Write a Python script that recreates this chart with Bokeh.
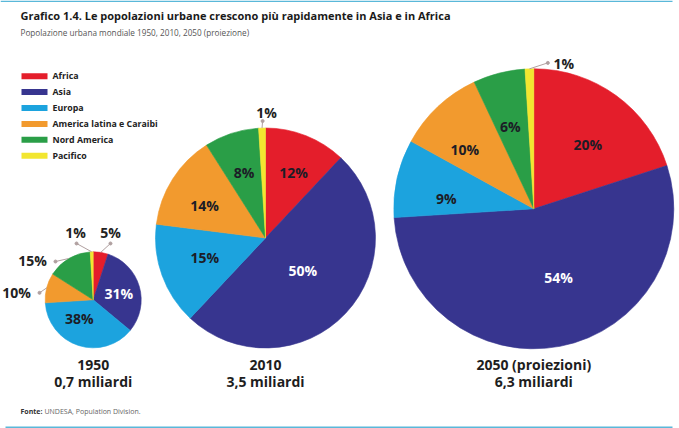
import numpy as np
from bokeh.plotting import figure
from bokeh.models import Range1d, ColumnDataSource
from bokeh.core.properties import value
from bokeh.embed import file_html
from bokeh.resources import INLINE

# ---------------- data ----------------
regions = ["Africa", "Asia", "Europa", "America latina e Caraibi", "Nord America", "Pacifico"]
region_colors = ["#E41E2B", "#37358F", "#1CA3DE", "#F29A2E", "#2A9E47", "#F2E630"]
years = ["1950", "2010", "2050 (proiezioni)"]
totals = ["0,7 miliardi", "3,5 miliardi", "6,3 miliardi"]
share_1950 = [5, 31, 38, 10, 15, 1]
share_2010 = [12, 50, 15, 14, 8, 1]
share_2050 = [20, 54, 9, 10, 6, 1]

title_text = "Grafico 1.4. Le popolazioni urbane crescono più rapidamente in Asia e in Africa"
subtitle_text = "Popolazione urbana mondiale 1950, 2010, 2050 (proiezione)"
source_bold = "Fonte:"
source_text = "UNDESA, Population Division."

# ---------------- layout ----------------
W, H = 679, 428
FONT = "Open Sans"
PIE_CX = [92.7, 265.0, 533.3]
PIE_CY = [299.3, 237.5, 208.3]      # px from top of picture
PIE_R = [48, 110, 140]
YEAR_Y, TOTAL_Y = 364, 381
# inside labels: region -> (angle nudge deg, radius fraction)
INSIDE = [
    {1: (3, 0.55), 2: (18, 0.49)},
    {0: (1.4, 0.65), 1: (-2, 0.45), 2: (2, 0.58), 3: (-4, 0.63), 4: (0, 0.63)},
    {0: (4, 0.60), 1: (-9, 0.52), 2: (-5.6, 0.63), 3: (-6, 0.65), 4: (-1.6, 0.61)},
]
# outside labels: region -> (angle deg, distance px, dot dx, dot dy)
OUTSIDE = [
    {0: (14.4, 69.5, 0, 11), 3: (275.2, 77, 23, 0), 4: (302.9, 72.3, 23, 1), 5: (345.3, 69.6, 1, 11)},
    {5: (0.5, 126, -4, 9)},
    {5: (11.7, 148, -16, -1)},
]
LEGEND_Y0, LEGEND_DY = 75.7, 15.9


def Y(ypix):
    return H - ypix


def polar(cx, cy, ang, d):
    a = np.radians(ang)
    return cx + d * np.sin(a), Y(cy) + d * np.cos(a)


p = figure(width=W, height=H, output_backend="svg", toolbar_location=None,
           x_range=Range1d(0, W), y_range=Range1d(0, H),
           min_border=0, background_fill_color="white", border_fill_color="white")
p.axis.visible = False
p.grid.visible = False
p.outline_line_color = None

# frame rules (top / bottom)
p.segment(x0=[0, 5], y0=[Y(0.8), Y(426.7)], x1=[672, 672], y1=[Y(0.8), Y(426.7)],
          line_color="#5AB8D9", line_width=1.6)

shares = [share_1950, share_2010, share_2050]

wx, wy, wr, ws, we, wc = [], [], [], [], [], []
tx, ty, tt, tcol = [], [], [], []
lx, ly = [], []
dx_, dy_ = [], []
for k, sh in enumerate(shares):
    cx, cy, r = PIE_CX[k], PIE_CY[k], PIE_R[k]
    frac = np.array(sh, dtype=float) / np.sum(sh)
    cum = np.concatenate([[0], np.cumsum(frac)])
    for i in range(len(regions)):
        wx.append(cx); wy.append(Y(cy)); wr.append(r)
        ws.append(np.pi / 2 - 2 * np.pi * cum[i])
        we.append(np.pi / 2 - 2 * np.pi * cum[i + 1])
        wc.append(region_colors[i])
        mid = 360 * (cum[i] + cum[i + 1]) / 2
        label = f"{sh[i]}%"
        if i in INSIDE[k]:
            nud, f = INSIDE[k][i]
            x, y = polar(cx, cy, mid + nud, f * r)
            tx.append(x); ty.append(y); tt.append(label)
            tcol.append("white" if regions[i] == "Asia" else "#1c1c26")
        elif i in OUTSIDE[k]:
            ang, d, ddx, ddy = OUTSIDE[k][i]
            x, y = polar(cx, cy, ang, d)
            tx.append(x); ty.append(y); tt.append(label); tcol.append("#222222")
            ex, ey = polar(cx, cy, mid, r)
            dotx, doty = x + ddx, y - ddy
            lx.append([ex, dotx]); ly.append([ey, doty])
            dx_.append(dotx); dy_.append(doty)

p.wedge(x="x", y="y", radius="r", start_angle="s", end_angle="e", direction="clock",
        fill_color="c", line_color="c", line_width=0.6,
        source=ColumnDataSource(dict(x=wx, y=wy, r=wr, s=ws, e=we, c=wc)))

p.multi_line(xs=lx, ys=ly, line_color="#b0a0a0", line_width=1)
p.scatter(x=dx_, y=dy_, size=3, color="#b0a0a0")

p.text(x="x", y="y", text="t", text_color="c", source=ColumnDataSource(dict(x=tx, y=ty, t=tt, c=tcol)),
       text_font=value(FONT), text_font_style="bold", text_font_size="14px",
       text_align="center", text_baseline="middle")

# year / total labels
p.text(x=PIE_CX, y=[Y(YEAR_Y)] * 3, text=years, text_font=value(FONT), text_font_style="bold",
       text_font_size="14px", text_color="#1e1e1e", text_align="center", text_baseline="middle")
p.text(x=PIE_CX, y=[Y(TOTAL_Y)] * 3, text=totals, text_font=value(FONT), text_font_style="bold",
       text_font_size="14px", text_color="#1e1e1e", text_align="center", text_baseline="middle")

# legend
ly_rows = [Y(LEGEND_Y0 + j * LEGEND_DY) for j in range(len(regions))]
p.rect(x=[34] * len(regions), y=ly_rows, width=26, height=6, fill_color=region_colors, line_color=None)
p.text(x=[52] * len(regions), y=ly_rows, text=regions, text_font=value(FONT), text_font_style="bold",
       text_font_size="8.8px", text_color="#222222", text_align="left", text_baseline="middle")

# titles and source
p.text(x=[20], y=[Y(15)], text=[title_text], text_font=value(FONT), text_font_style="bold",
       text_font_size="11px", text_color="#1a1a1a", text_align="left", text_baseline="middle")
p.text(x=[20], y=[Y(32)], text=[subtitle_text], text_font=value(FONT),
       text_font_size="8.2px", text_color="#555555", text_align="left", text_baseline="middle")
p.text(x=[20], y=[Y(411)], text=[source_bold], text_font=value(FONT), text_font_style="bold",
       text_font_size="7px", text_color="#333333", text_align="left", text_baseline="middle")
p.text(x=[44], y=[Y(411)], text=[source_text], text_font=value(FONT),
       text_font_size="7px", text_color="#666666", text_align="left", text_baseline="middle")

open("out.html", "w").write(file_html(p, INLINE))
